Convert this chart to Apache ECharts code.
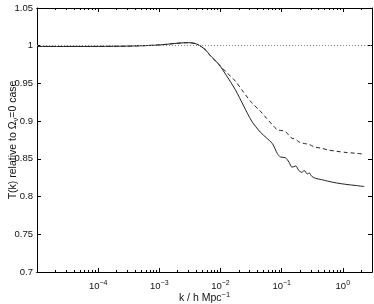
<!DOCTYPE html>
<html>
<head>
<meta charset="utf-8">
<script src="https://cdn.jsdelivr.net/npm/echarts@6/dist/echarts.min.js"></script>
<style>
  html, body { margin: 0; padding: 0; background: #fff; }
  #chart { width: 374px; height: 304px; }
</style>
</head>
<body>
<div id="chart"></div>
<script>
// wavenumber k (h/Mpc), shared by both curves
var kValues = [1e-5, 3.2e-5, 1e-4, 3.2e-4, 1e-3, 1.8e-3, 2.8e-3, 4e-3, 5.6e-3, 6.8e-3,
  9.3e-3, 0.0126, 0.0174, 0.024, 0.0324, 0.0447, 0.0562, 0.0708, 0.0851, 0.0955,
  0.115, 0.132, 0.148, 0.170, 0.191, 0.214, 0.234, 0.263, 0.282, 0.309,
  0.355, 0.447, 0.562, 0.794, 1.12, 1.58, 2.24];

// solid curve
var solidT = [0.9990, 0.9990, 0.9991, 0.9995, 1.0010, 1.0030, 1.0040, 1.0025, 0.9950, 0.9870,
  0.9756, 0.9600, 0.9420, 0.9200, 0.9000, 0.8855, 0.8780, 0.8700, 0.8570, 0.8525,
  0.8515, 0.8456, 0.8390, 0.8405, 0.8345, 0.8323, 0.8345, 0.8300, 0.8312, 0.8270,
  0.8243, 0.8225, 0.8205, 0.8180, 0.8162, 0.8148, 0.8133];

// dashed curve
var dashedT = [0.9990, 0.9990, 0.9991, 0.9995, 1.0010, 1.0030, 1.0040, 1.0025, 0.9950, 0.9870,
  0.9756, 0.9645, 0.9533, 0.9380, 0.9245, 0.9133, 0.9040, 0.8950, 0.8885, 0.8878,
  0.8862, 0.8810, 0.8773, 0.8760, 0.8725, 0.8712, 0.8703, 0.8697, 0.8693, 0.8675,
  0.8655, 0.8640, 0.8620, 0.8600, 0.8585, 0.8575, 0.8563];

var xMajorTicks = [1e-5, 1e-4, 1e-3, 1e-2, 1e-1, 1];
var xTickLabels = [1e-4, 1e-3, 1e-2, 1e-1, 1];
var xMinorTicks = [];
for (var d = -5; d <= 0; d++) {
  for (var m = 2; m <= 9; m++) {
    var v = m * Math.pow(10, d);
    if (v <= 3) xMinorTicks.push(v);
  }
}

function pairs(ys) {
  return kValues.map(function (k, i) { return [k, ys[i]]; });
}

var font = 'Liberation Sans';
var black = '#000';
var txt = '#111';

function logAxis(pos, ticks, len, extra) {
  var ax = {
    type: 'log',
    logBase: 10,
    min: 1e-5,
    max: 3,
    position: pos,
    axisLine: { show: true, onZero: false, lineStyle: { color: black, width: 1 } },
    axisTick: { show: true, inside: true, length: len, customValues: ticks, lineStyle: { color: black } },
    axisLabel: { show: false },
    splitLine: { show: false },
    minorTick: { show: false }
  };
  for (var key in extra) ax[key] = extra[key];
  return ax;
}

function valAxis(pos, showLabel) {
  return {
    type: 'value',
    position: pos,
    min: 0.7,
    max: 1.05,
    interval: 0.05,
    axisLine: { show: true, onZero: false, lineStyle: { color: black, width: 1 } },
    axisTick: { show: true, inside: true, length: 4, lineStyle: { color: black } },
    axisLabel: { show: showLabel, color: txt, fontFamily: font, fontSize: 9.5, margin: 4 },
    splitLine: { show: false }
  };
}

var chart = echarts.init(document.getElementById('chart'), null, { renderer: 'canvas' });

var yMain = valAxis('left', true);
yMain.name = '{t|T(k) relative to \u03A9}{sub|\u03BD}{t|=0 case}';
yMain.nameLocation = 'middle';
yMain.nameGap = 17;
yMain.nameMoveOverlap = false;
yMain.nameTextStyle = {
  fontFamily: font, fontSize: 10.5, color: txt,
  rich: {
    t: { fontFamily: font, fontSize: 10.5, color: txt },
    sub: { fontFamily: font, fontSize: 7.5, color: txt, padding: [6, 0, 0, 0] }
  }
};

chart.setOption({
  animation: false,
  backgroundColor: '#fff',
  grid: { left: 37, right: 2, top: 8, bottom: 32, outerBoundsMode: 'none', containLabel: false },
  xAxis: [
    logAxis('bottom', xMajorTicks, 4, {
      axisLabel: {
        show: true,
        customValues: xTickLabels,
        margin: 8,
        formatter: function (val) {
          var e = Math.round(Math.log(val) / Math.LN10);
          return '{b|10}{s|' + (e < 0 ? '\u2212' + (-e) : e) + '}';
        },
        rich: {
          b: { fontFamily: font, fontSize: 9.5, color: txt },
          s: { fontFamily: font, fontSize: 7, color: txt, padding: [0, 0, 6, 0] }
        }
      },
      name: '{t|k / h Mpc}{s|\u22121}',
      nameLocation: 'middle',
      nameGap: 19,
      nameMoveOverlap: false,
      nameTextStyle: {
        rich: {
          t: { fontFamily: font, fontSize: 10.5, color: txt },
          s: { fontFamily: font, fontSize: 7.5, color: txt, padding: [0, 0, 6, 0] }
        }
      }
    }),
    logAxis('bottom', xMinorTicks, 2, {}),
    logAxis('top', xMajorTicks, 4, {}),
    logAxis('top', xMinorTicks, 2, {})
  ],
  yAxis: [yMain, valAxis('right', false)],
  series: [
    {
      name: 'solid',
      type: 'line',
      xAxisIndex: 0,
      yAxisIndex: 0,
      data: pairs(solidT),
      showSymbol: false,
      smooth: 0.3,
      lineStyle: { color: '#222', width: 1 },
      markLine: {
        silent: true,
        symbol: 'none',
        label: { show: false },
        lineStyle: { color: '#888', width: 1, type: [1, 2] },
        data: [{ yAxis: 1 }]
      },
      z: 3
    },
    {
      name: 'dashed',
      type: 'line',
      xAxisIndex: 0,
      yAxisIndex: 0,
      data: pairs(dashedT),
      showSymbol: false,
      smooth: 0.3,
      lineStyle: { color: '#222', width: 1, type: [4, 3] },
      z: 2
    }
  ]
});
</script>
</body>
</html>
